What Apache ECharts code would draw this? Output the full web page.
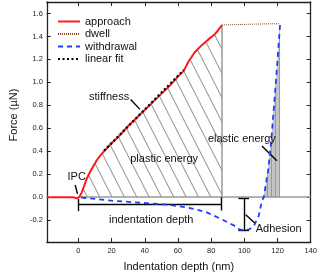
<!DOCTYPE html>
<html><head><meta charset="utf-8">
<script src="https://cdn.jsdelivr.net/npm/echarts@6/dist/echarts.min.js"></script>
<style>html,body{margin:0;padding:0;background:#fff}#c{width:320px;height:277px}</style>
</head><body><div id="c"></div>
<script>
// ---- data ----
const approachX = [-19, -10, -3, -1, 0.5, 2, 3.5, 5, 7, 9, 11, 13, 15.5, 20, 25, 30, 35, 40, 45, 50, 55, 60, 63.5, 66.3, 70, 74, 78, 81.5, 84, 86.5];
const approachY = [0, 0, 0, -0.01, 0, 0.04, 0.1, 0.16, 0.22, 0.27, 0.32, 0.36, 0.4, 0.47, 0.54, 0.62, 0.69, 0.76, 0.83, 0.9, 0.97, 1.05, 1.1, 1.18, 1.26, 1.32, 1.37, 1.41, 1.45, 1.5];
const dwellX = [86.5, 95, 105, 115, 121.5];
const dwellY = [1.5, 1.503, 1.507, 1.51, 1.51];
const withdrawalX = [121.5, 119, 116.2, 114.3, 111.7, 110.6, 108.7, 105.9, 103, 100, 97, 93.6, 86, 77, 66, 54, 39, 20, 10, 0];
const withdrawalY = [1.5, 1.0, 0.49, 0.23, 0, -0.03, -0.16, -0.245, -0.28, -0.29, -0.28, -0.245, -0.19, -0.13, -0.09, -0.065, -0.05, -0.03, -0.015, 0];
const fitX = [15.5, 63.5];
const fitY = [0.405, 1.108];
const xTicks = [0, 20, 40, 60, 80, 100, 120, 140];
const yTicks = [-0.2, 0, 0.2, 0.4, 0.6, 0.8, 1.0, 1.2, 1.4, 1.6];
const seriesNames = ['approach', 'dwell', 'withdrawal', 'linear fit'];
// annotation texts (data coordinates)
const noteTexts = ['IPC', 'stiffness', 'plastic energy', 'elastic energy', 'indentation depth', 'Adhesion'];
const noteX = [-1, 18.5, 51.7, 98.5, 43.9, 120.7];
const noteY = [0.18, 0.875, 0.337, 0.507, -0.196, -0.274];
// annotation line segments [x1, y1, x2, y2]
const noteLines = [
  [-1.9, 0.106, -0.56, 0.029],
  [31.5, 0.85, 37.1, 0.765],
  [110.6, 0.447, 119.6, 0.317],
  [100.8, -0.153, 106.8, -0.231],
  [0, -0.015, 0, -0.121],
  [0, -0.058, 86.2, -0.058],
  [86.2, 0, 86.2, -0.116],
  [99.7, -0.009, 99.7, -0.289],
  [96.4, -0.009, 102.8, -0.009],
  [96.4, -0.289, 102.8, -0.289]
];

const FONT = 'Liberation Sans, Arial, sans-serif';
const zip = (xs, ys) => xs.map((x, i) => [x, ys[i]]);
const approach = zip(approachX, approachY);
const plasticArea = approach.filter(p => p[0] >= 0);
const withdrawal = zip(withdrawalX, withdrawalY);
const elasticIdx = withdrawalY.findIndex(v => v <= 0);
const elasticArea = withdrawal.slice(0, elasticIdx + 1);
const lastA = approach[approach.length - 1];

const chart = echarts.init(document.getElementById('c'), null, {renderer: 'canvas'});
const axisCommon = {
  type: 'value',
  axisLine: {show: true, onZero: false, lineStyle: {color: '#222', width: 1.3}},
  axisTick: {show: true, inside: true, length: 4, lineStyle: {color: '#222', width: 1}},
  splitLine: {show: false}
};
const xBase = Object.assign({}, axisCommon, {min: -19, max: 140, minInterval: 20, maxInterval: 20, splitNumber: 7});
const yBase = Object.assign({}, axisCommon, {min: -0.39, max: 1.7, minInterval: 0.2, maxInterval: 0.2, splitNumber: 10});

const option = {
  animation: false,
  backgroundColor: '#fff',
  grid: {left: 31, right: 8, top: 2, bottom: 34},
  xAxis: [
    Object.assign({}, xBase, {
      position: 'bottom',
      name: 'Indentation depth (nm)', nameLocation: 'middle', nameGap: 19,
      nameTextStyle: {fontFamily: FONT, fontSize: 11, color: '#111'},
      axisLabel: {fontFamily: FONT, fontSize: 7.5, color: '#222', margin: 5, showMinLabel: false, showMaxLabel: true,
        formatter: v => xTicks.indexOf(v) >= 0 ? String(v) : ''}
    }),
    Object.assign({}, xBase, {position: 'top', axisLabel: {show: false}})
  ],
  yAxis: [
    Object.assign({}, yBase, {
      position: 'left',
      name: 'Force (µN)', nameLocation: 'middle', nameGap: 17, nameRotate: 90,
      nameTextStyle: {fontFamily: FONT, fontSize: 11, color: '#111', padding: [0, 0, 0, 14]},
      axisLabel: {fontFamily: FONT, fontSize: 7.5, color: '#222', margin: 4, showMinLabel: false, showMaxLabel: false,
        formatter: v => yTicks.some(t => Math.abs(t - v) < 1e-6) ? v.toFixed(1) : ''}
    }),
    Object.assign({}, yBase, {position: 'right', axisLabel: {show: false}})
  ],
  legend: {
    data: seriesNames, orient: 'vertical', left: 52, top: 11,
    itemWidth: 22, itemHeight: 8, itemGap: 1.5,
    itemStyle: {opacity: 0},
    textStyle: {fontFamily: FONT, fontSize: 11, color: '#111'}
  },
  series: [
    {
      name: 'plasticHatch', type: 'line', data: plasticArea, showSymbol: false, silent: true, z: 1,
      lineStyle: {width: 0, opacity: 0},
      areaStyle: {color: 'rgba(255,255,255,0)', origin: 0},
      itemStyle: {color: '#666', decal: {symbol: 'rect', symbolSize: 1, dashArrayX: [1, 0], dashArrayY: [1, 9.5], rotation: 1.1, color: '#666', backgroundColor: 'rgba(255,255,255,0)'}},
      markLine: {
        silent: true, symbol: ['none', 'none'], label: {show: false},
        lineStyle: {color: '#999', width: 1.5, type: 'solid'},
        data: [
          [{coord: [0, 0]}, {coord: [140, 0]}],
          [{coord: [lastA[0], 0]}, {coord: [lastA[0], lastA[1]]}]
        ]
      }
    },
    {
      name: 'elasticFill', type: 'line', data: elasticArea, showSymbol: false, silent: true, z: 2,
      lineStyle: {width: 0, opacity: 0},
      areaStyle: {color: '#c4c4c4', opacity: 1, origin: 0},
      itemStyle: {color: '#c4c4c4', decal: {symbol: 'rect', symbolSize: 1, dashArrayX: [1, 0], dashArrayY: [1, 2.5], rotation: Math.PI / 2, color: '#9a9a9a', backgroundColor: '#c4c4c4'}}
    },
    {
      name: 'approach', type: 'line', data: approach, showSymbol: false, symbol: 'none', z: 5,
      lineStyle: {color: '#ff1a1a', width: 2}, itemStyle: {color: '#ff1a1a'}
    },
    {
      name: 'dwell', type: 'line', data: zip(dwellX, dwellY), showSymbol: false, symbol: 'none', z: 5,
      lineStyle: {color: '#8b4a2b', width: 1, type: [1, 1]}, itemStyle: {color: '#8b4a2b'}
    },
    {
      name: 'withdrawal', type: 'line', data: withdrawal, showSymbol: false, symbol: 'none', z: 6,
      lineStyle: {color: '#1f3cff', width: 1.8, type: [5, 4]}, itemStyle: {color: '#1f3cff'}
    },
    {
      name: 'linear fit', type: 'line', data: zip(fitX, fitY), showSymbol: false, symbol: 'none', z: 7,
      lineStyle: {color: '#000', width: 2.2, type: [2, 2.5]}, itemStyle: {color: '#000'}
    },
    {
      name: 'notes', type: 'line', data: [], showSymbol: false, silent: true, z: 8,
      markLine: {
        silent: true, symbol: ['none', 'none'], label: {show: false},
        lineStyle: {color: '#000', width: 1.4, type: 'solid'},
        data: noteLines.map(s => [{coord: [s[0], s[1]]}, {coord: [s[2], s[3]]}])
      }
    }
  ]
};
chart.setOption(option);
const texts = noteTexts.map((t, i) => {
  const p = chart.convertToPixel({xAxisIndex: 0, yAxisIndex: 0}, [noteX[i], noteY[i]]);
  return {type: 'text', x: p[0], y: p[1], z: 100, silent: true,
    style: {text: t, fill: '#111', font: '11px ' + FONT, align: 'center', verticalAlign: 'middle'}};
});
chart.setOption({graphic: texts});
</script>
</body></html>
